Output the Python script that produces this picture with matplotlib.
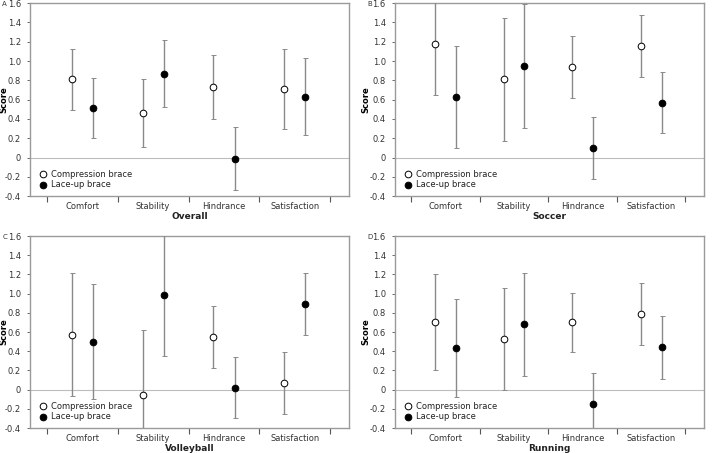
import numpy as np
import matplotlib
matplotlib.use("Agg")
import matplotlib.pyplot as plt
from matplotlib.lines import Line2D

categories = ["Comfort", "Stability", "Hindrance", "Satisfaction"]
panels = ["A", "B", "C", "D"]
titles = ["Overall", "Soccer", "Volleyball", "Running"]

# mean scores and error bar half widths, one row per panel
comp_mean = [[0.81, 0.46, 0.73, 0.71],
             [1.18, 0.81, 0.94, 1.16],
             [0.57, -0.06, 0.55, 0.07],
             [0.70, 0.53, 0.70, 0.79]]
comp_err = [[0.32, 0.35, 0.33, 0.41],
            [0.53, 0.64, 0.32, 0.32],
            [0.64, 0.68, 0.32, 0.32],
            [0.50, 0.53, 0.31, 0.32]]
lace_mean = [[0.51, 0.87, -0.01, 0.63],
             [0.63, 0.95, 0.10, 0.57],
             [0.50, 0.99, 0.02, 0.89],
             [0.43, 0.68, -0.145, 0.44]]
lace_err = [[0.31, 0.35, 0.33, 0.40],
            [0.53, 0.64, 0.32, 0.32],
            [0.60, 0.64, 0.32, 0.32],
            [0.51, 0.54, 0.32, 0.33]]

fig = plt.figure(figsize=(7.14, 4.53), dpi=100)

# axes boxes in figure fractions: left, bottom, width, height
boxes = [[0.042, 0.567, 0.447, 0.426],
         [0.553, 0.567, 0.433, 0.426],
         [0.042, 0.055, 0.447, 0.424],
         [0.553, 0.055, 0.433, 0.424]]

frame = "#9a9a9a"
bar = "#8a8a8a"
x = np.arange(len(categories)) + 0.5

for i in range(4):
    ax = fig.add_axes(boxes[i])
    ax.axhline(0, color="#bdbdbd", lw=0.8, zorder=1)
    ax.errorbar(x - 0.15, comp_mean[i], yerr=comp_err[i], fmt="o", ms=4.8,
                mfc="white", mec="black", mew=0.7, ecolor=bar, elinewidth=1.0,
                capsize=1.8, capthick=0.8, zorder=3)
    ax.errorbar(x + 0.15, lace_mean[i], yerr=lace_err[i], fmt="o", ms=4.8,
                mfc="black", mec="black", mew=0.7, ecolor=bar, elinewidth=1.0,
                capsize=1.8, capthick=0.8, zorder=3)
    ax.set_xlim(-0.24, 4.27)
    ax.set_ylim(-0.4, 1.6)
    yt = np.arange(-0.4, 1.61, 0.2)
    ax.set_yticks(yt)
    ax.set_yticklabels(["%.1f" % v if abs(v) > 1e-9 else "0" for v in yt])
    ax.set_xticks(x)
    ax.set_xticklabels(categories)
    ax.set_xticks(np.arange(0, 5), minor=True)
    ax.tick_params(axis="x", which="major", length=0, pad=4,
                   labelsize=6, labelcolor="#333333")
    ax.tick_params(axis="x", which="minor", length=4, width=0.8,
                   color="#555555", direction="out")
    ax.tick_params(axis="y", length=2.5, width=0.6, color="#555555",
                   labelsize=6, labelcolor="#333333", pad=4)
    for s in ax.spines.values():
        s.set_color(frame)
        s.set_linewidth(1.0)
    ax.set_ylabel("Score", fontsize=6, fontweight="bold")
    ax.yaxis.set_label_coords(-0.067 if i % 2 == 0 else -0.078, 0.5)
    ax.set_xlabel(titles[i], fontsize=6.5, fontweight="bold", labelpad=1,
                  color="#222222")
    handles = [Line2D([], [], ls="none", marker="o", ms=4.8, mfc="white",
                      mec="black", mew=0.7),
               Line2D([], [], ls="none", marker="o", ms=4.8, mfc="black",
                      mec="black", mew=0.7)]
    leg = ax.legend(handles, ["Compression brace", "Lace-up brace"],
                    loc="lower left", bbox_to_anchor=(0.0, 0.0), frameon=False,
                    fontsize=6, handletextpad=0.1, borderaxespad=0.4,
                    labelspacing=0.15, handlelength=1.6)
    for t in leg.get_texts():
        t.set_color("#222222")
    fig.text(boxes[i][0] - 0.039, boxes[i][1] + boxes[i][3] - 0.002,
             panels[i], fontsize=5, va="center", ha="left", color="#333333")

fig.savefig("out.png", dpi=100)
